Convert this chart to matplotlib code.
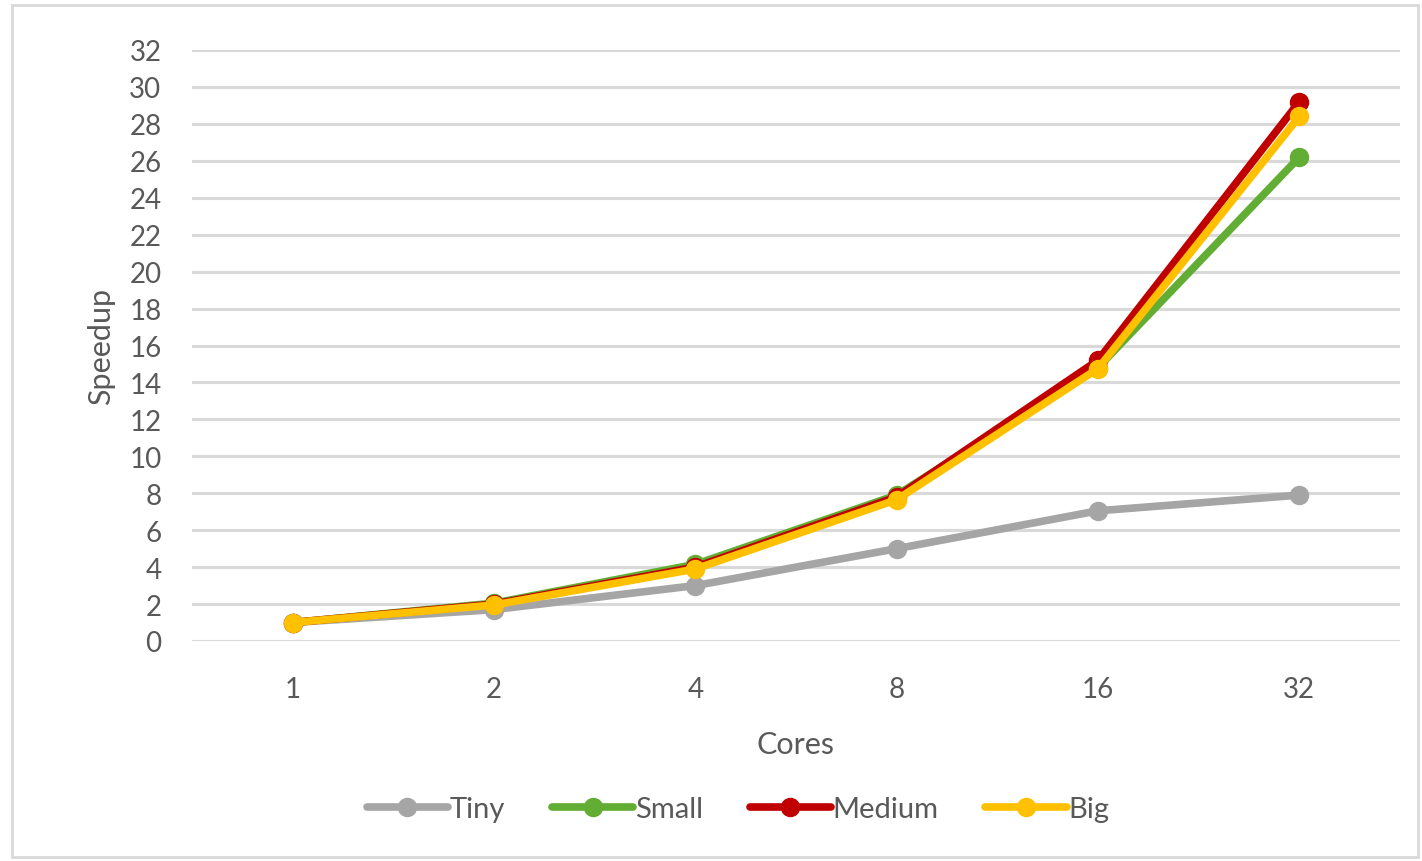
import matplotlib
matplotlib.use("Agg")
import matplotlib.pyplot as plt
from matplotlib.patches import Rectangle

plt.rcParams['font.family'] = ['Lato', 'DejaVu Sans']

cores = ["1", "2", "4", "8", "16", "32"]
tiny = [1.0, 1.7, 3.0, 5.0, 7.05, 7.9]
small = [1.0, 2.05, 4.15, 7.9, 14.8, 26.2]
medium = [1.0, 2.0, 4.0, 7.8, 15.2, 29.2]
big = [1.0, 1.95, 3.9, 7.65, 14.75, 28.4]

series = [
    ("Tiny", tiny, "#A5A5A5"),
    ("Small", small, "#62AD34"),
    ("Medium", medium, "#C00000"),
    ("Big", big, "#FFC000"),
]

text_color = "#595959"
W, H = 1422, 862
fig = plt.figure(figsize=(W / 100, H / 100), dpi=100)

# chart-area border
fig.patches.append(Rectangle((12 / W, 4 / H), (W - 16) / W, (H - 10) / H,
                             transform=fig.transFigure, fill=False,
                             edgecolor="#D9D9D9", linewidth=2))

left, right, top, bottom = 192, 1400, 51, 642
ax = fig.add_axes([left / W, 1 - bottom / H, (right - left) / W, (bottom - top) / H])

x = list(range(len(cores)))
for name, vals, col in series:
    ax.plot(x, vals, color=col, linewidth=5.5, marker="o", markersize=13,
            solid_capstyle="round", label=name, zorder=3)

ax.set_xlim(-0.5, len(cores) - 0.5)
ax.set_ylim(0, 32)
ax.set_yticks(range(0, 33, 2))
ax.set_xticks(x)
ax.set_xticklabels(cores)
ax.grid(axis="y", color="#D9D9D9", linewidth=2.2, zorder=0)
for s in ax.spines.values():
    s.set_visible(False)
ax.tick_params(axis="both", length=0, labelsize=20, labelcolor=text_color)
ax.tick_params(axis="y", pad=22)
ax.tick_params(axis="x", pad=25)

ax.set_xlabel("Cores", fontsize=22, color=text_color, labelpad=20)
ax.set_ylabel("Speedup", fontsize=22, color=text_color, labelpad=10)

leg = ax.legend(loc="upper center", bbox_to_anchor=(0.452, -0.218), ncol=4,
                frameon=False, fontsize=21, handlelength=2.8,
                handletextpad=0.05, columnspacing=1.6, labelcolor=text_color)

fig.savefig("out.png", dpi=100)
